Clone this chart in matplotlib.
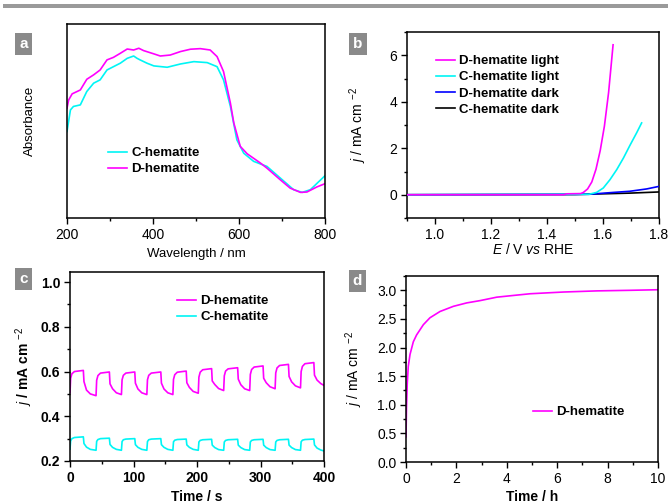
import matplotlib
matplotlib.use("Agg")
import matplotlib.pyplot as plt
from matplotlib.ticker import MultipleLocator
from matplotlib.patches import Rectangle

plt.rcParams['font.family'] = ['Liberation Sans', 'DejaVu Sans']
plt.rcParams['mathtext.fontset'] = 'custom'
plt.rcParams['mathtext.rm'] = 'Liberation Sans'
plt.rcParams['mathtext.it'] = 'Liberation Sans:italic'
plt.rcParams['mathtext.bf'] = 'Liberation Sans:bold'

MAG = '#ff00ff'
CYA = '#00f5f5'

# (a) UV-vis absorbance (arb. units)
wl_d = [200, 204, 212, 231, 246, 262, 277, 293, 308, 324, 340, 355, 367, 378, 402, 417,
        440, 464, 487, 510, 533, 549, 564, 580, 588, 603, 619, 650, 665, 696, 719, 743,
        758, 781, 800]
abs_d = [0.566, 0.609, 0.640, 0.660, 0.715, 0.738, 0.763, 0.815, 0.828, 0.849, 0.871,
         0.866, 0.875, 0.863, 0.846, 0.835, 0.840, 0.858, 0.870, 0.873, 0.866, 0.832,
         0.755, 0.592, 0.489, 0.369, 0.331, 0.283, 0.257, 0.197, 0.154, 0.132, 0.134,
         0.160, 0.177]
wl_c = [200, 208, 215, 231, 246, 262, 277, 293, 308, 324, 340, 355, 363, 370, 386, 402,
        433, 464, 495, 526, 549, 564, 580, 595, 611, 634, 665, 696, 727, 747, 766, 800]
abs_c = [0.446, 0.557, 0.575, 0.583, 0.652, 0.695, 0.712, 0.763, 0.780, 0.798, 0.823,
         0.835, 0.823, 0.815, 0.798, 0.784, 0.777, 0.794, 0.806, 0.801, 0.780, 0.712,
         0.575, 0.403, 0.334, 0.292, 0.266, 0.206, 0.146, 0.132, 0.146, 0.218]

# (b) LSV curves
E_dl = [0.9, 1.46, 1.47, 1.52, 1.53, 1.545, 1.56, 1.575, 1.59, 1.605, 1.62, 1.636]
j_dl = [0, 0, 0.04, 0.05, 0.1, 0.25, 0.55, 1.1, 1.9, 2.95, 4.4, 6.45]
E_cl = [0.9, 1.55, 1.577, 1.601, 1.625, 1.649, 1.673, 1.696, 1.72, 1.738]
j_cl = [0, 0.02, 0.1, 0.29, 0.65, 1.08, 1.58, 2.12, 2.66, 3.09]
E_dd = [0.9, 1.55, 1.637, 1.696, 1.756, 1.8]
j_dd = [0, 0.02, 0.1, 0.15, 0.25, 0.36]
E_cd = [0.9, 1.5, 1.6, 1.696, 1.8]
j_cd = [0, 0.01, 0.04, 0.07, 0.12]

# (c) chopped-light photocurrent
t_c = [0, 1, 3, 7, 21, 22, 26, 32,
       41, 42, 44, 48, 62, 63, 67, 73,
       81, 82, 84, 88, 102, 103, 107, 113,
       121, 122, 124, 128, 143, 144, 148, 154,
       162, 163, 165, 169, 183, 184, 188, 194,
       202, 203, 205, 209, 223, 224, 228, 234,
       242, 243, 245, 249, 264, 265, 269, 275,
       283, 284, 286, 290, 304, 305, 309, 315,
       323, 324, 326, 330, 344, 345, 349, 355,
       363, 364, 366, 370, 384, 385, 389, 395, 400]
j_c_d = [0.505, 0.570, 0.590, 0.600, 0.605, 0.555, 0.517, 0.500,
         0.492, 0.561, 0.582, 0.593, 0.598, 0.545, 0.523, 0.505,
         0.497, 0.563, 0.583, 0.593, 0.598, 0.548, 0.522, 0.505,
         0.497, 0.563, 0.583, 0.593, 0.598, 0.548, 0.522, 0.505,
         0.497, 0.565, 0.586, 0.597, 0.602, 0.550, 0.529, 0.511,
         0.503, 0.575, 0.597, 0.608, 0.613, 0.558, 0.542, 0.524,
         0.515, 0.581, 0.602, 0.612, 0.617, 0.566, 0.541, 0.523,
         0.515, 0.587, 0.609, 0.620, 0.625, 0.570, 0.550, 0.532,
         0.523, 0.594, 0.616, 0.627, 0.632, 0.578, 0.554, 0.536,
         0.527, 0.600, 0.623, 0.635, 0.640, 0.584, 0.562, 0.546, 0.538]
j_c_c = [0.253, 0.290, 0.300, 0.305, 0.308, 0.278, 0.262, 0.252,
         0.248, 0.288, 0.296, 0.300, 0.302, 0.274, 0.261, 0.252,
         0.248, 0.287, 0.295, 0.298, 0.300, 0.273, 0.261, 0.252,
         0.248, 0.287, 0.295, 0.298, 0.300, 0.273, 0.261, 0.252,
         0.248, 0.286, 0.293, 0.296, 0.298, 0.272, 0.261, 0.252,
         0.248, 0.285, 0.292, 0.295, 0.297, 0.271, 0.260, 0.251,
         0.248, 0.285, 0.292, 0.295, 0.297, 0.271, 0.260, 0.251,
         0.248, 0.285, 0.292, 0.295, 0.297, 0.271, 0.260, 0.251,
         0.248, 0.285, 0.292, 0.295, 0.297, 0.271, 0.260, 0.251,
         0.248, 0.286, 0.293, 0.296, 0.298, 0.272, 0.258, 0.249, 0.245]

# (d) stability
t_d = [0, 0.02, 0.05, 0.09, 0.16, 0.29, 0.42, 0.69, 0.95, 1.35, 1.88, 2.41, 2.94,
       3.6, 4.26, 4.93, 6.25, 7.58, 8.9, 10]
j_d = [0.44, 0.95, 1.37, 1.67, 1.88, 2.1, 2.22, 2.4, 2.52, 2.63, 2.72, 2.78, 2.82,
       2.88, 2.91, 2.94, 2.97, 2.99, 3.0, 3.01]

W, H = 668, 504
fig = plt.figure(figsize=(W / 100, H / 100), dpi=100)


def px_axes(left, top, right, bottom):
    return fig.add_axes([left / W, (H - bottom) / H, (right - left) / W, (bottom - top) / H])


def style(ax, size=9.5, weight='normal'):
    for s in ax.spines.values():
        s.set_linewidth(1.1)
    ax.tick_params(which='both', direction='out', top=False, right=False, width=1.0,
                   labelsize=size, pad=3)
    ax.tick_params(which='major', length=4)
    ax.tick_params(which='minor', length=2.5)
    for lab in ax.get_xticklabels() + ax.get_yticklabels():
        lab.set_fontweight(weight)


def leg(ax, x, y, handles=None, labels=None):
    kw = dict(loc='upper left', bbox_to_anchor=(x, y), frameon=False, borderpad=0,
              borderaxespad=0, handlelength=1.45, handletextpad=0.3, labelspacing=0.3,
              prop={'weight': 'bold', 'size': 9.5})
    if handles is None:
        ax.legend(**kw)
    else:
        ax.legend(handles, labels, **kw)


def place_labels(ax, w, h, xbelow, yleft):
    # xbelow / yleft: pixel distance from the axes to the label centre
    ax.xaxis.set_label_coords(0.5, -(xbelow - 7) / h)
    ax.yaxis.set_label_coords(-(yleft - 7) / w, 0.5)


jlabel = r'$\mathit{j}$ / mA cm $^{-2}$'

# panel a
ax = px_axes(67, 24, 325, 218)
ax.plot(wl_c, abs_c, color=CYA, lw=1.2, label='C-hematite')
ax.plot(wl_d, abs_d, color=MAG, lw=1.2, label='D-hematite')
ax.set_xlim(200, 800)
ax.set_ylim(0, 1)
ax.set_yticks([])
ax.xaxis.set_major_locator(MultipleLocator(200))
ax.xaxis.set_minor_locator(MultipleLocator(100))
style(ax, size=10)
ax.set_xlabel('Wavelength / nm', fontsize=9.5)
ax.set_ylabel('Absorbance', fontsize=9.5)
place_labels(ax, 258, 194, 37, 38)
leg(ax, 0.159, 0.366)

# panel b
ax = px_axes(407, 32, 659, 218)
ax.plot(E_cd, j_cd, color='black', lw=1.2, label='C-hematite dark', zorder=2)
ax.plot(E_dd, j_dd, color='#0000ff', lw=1.2, label='D-hematite dark', zorder=3)
ax.plot(E_cl, j_cl, color=CYA, lw=1.2, label='C-hematite light', zorder=4)
ax.plot(E_dl, j_dl, color=MAG, lw=1.2, label='D-hematite light', zorder=5)
ax.set_xlim(0.9, 1.8)
ax.set_ylim(-1, 7)
ax.xaxis.set_major_locator(MultipleLocator(0.2))
ax.xaxis.set_minor_locator(MultipleLocator(0.1))
ax.yaxis.set_major_locator(MultipleLocator(2))
ax.yaxis.set_minor_locator(MultipleLocator(1))
style(ax, size=10)
ax.set_xlabel(r'$\mathit{E}$ / V $\mathit{vs}$ RHE', fontsize=10)
ax.set_ylabel(jlabel, fontsize=10)
place_labels(ax, 252, 186, 31, 45)
h, l = ax.get_legend_handles_labels()
leg(ax, 0.115, 0.876, h[::-1], l[::-1])

# panel c
ax = px_axes(70, 272, 324, 461)
ax.plot(t_c, j_c_d, color=MAG, lw=1.2, label='D-hematite')
ax.plot(t_c, j_c_c, color=CYA, lw=1.2, label='C-hematite')
ax.set_xlim(0, 400)
ax.set_ylim(0.2, 1.045)
ax.xaxis.set_major_locator(MultipleLocator(100))
ax.xaxis.set_minor_locator(MultipleLocator(50))
ax.yaxis.set_minor_locator(MultipleLocator(0.1))
ax.set_yticks([0.2, 0.4, 0.6, 0.8, 1.0])
style(ax, size=10, weight='bold')
ax.set_xlabel('Time / s', fontsize=10, fontweight='bold')
ax.set_ylabel(jlabel, fontsize=10, fontweight='bold')
place_labels(ax, 254, 189, 36, 42)
leg(ax, 0.421, 0.878)

# panel d
ax = px_axes(406, 276, 658, 462)
ax.plot(t_d, j_d, color=MAG, lw=1.2, label='D-hematite')
ax.set_xlim(0, 10)
ax.set_ylim(0, 3.25)
ax.xaxis.set_major_locator(MultipleLocator(2))
ax.xaxis.set_minor_locator(MultipleLocator(1))
ax.yaxis.set_major_locator(MultipleLocator(0.5))
ax.yaxis.set_minor_locator(MultipleLocator(0.25))
style(ax, size=10)
ax.set_xlabel('Time / h', fontsize=10, fontweight='bold')
ax.set_ylabel(jlabel, fontsize=10)
place_labels(ax, 252, 186, 35, 48)
leg(ax, 0.504, 0.301)

# top gray bar and panel letters
fig.add_artist(Rectangle((3 / W, 1 - 8 / H), 1, 4 / H, transform=fig.transFigure,
                         color='#9a9a9a', lw=0))
for letter, (x, y) in zip('abcd', [(23.5, 44), (358, 44), (23.5, 279), (357.5, 281)]):
    fig.text(x / W, 1 - y / H, letter, ha='center', va='center', color='white',
             fontsize=11, fontweight='bold',
             bbox=dict(boxstyle='square,pad=0.25', fc='#8a8a8a', ec='none'))

fig.savefig('out.png', dpi=100)
